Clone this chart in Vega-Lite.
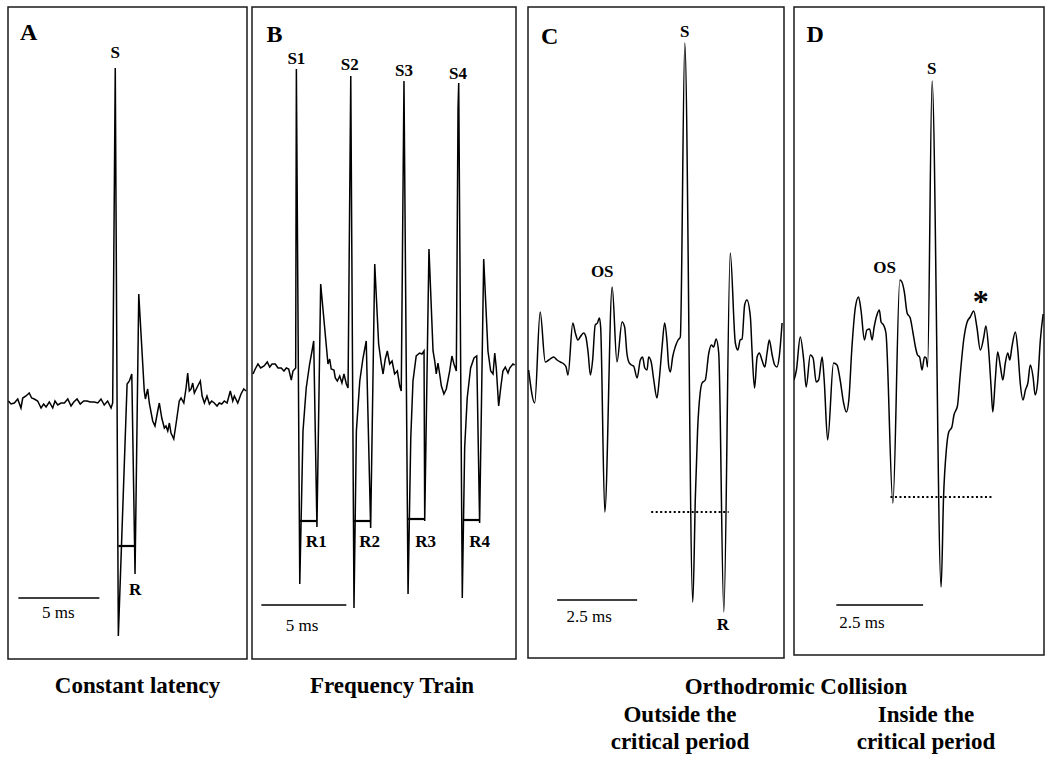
{
"$schema": "https://vega.github.io/schema/vega-lite/v6.json",
"background": "white",
"padding": {"left": 7, "top": 6, "right": 0, "bottom": 0},
"title": {"text": "Orthodromic Collision", "orient": "bottom", "anchor": "start", "frame": "group", "align": "center", "dx": 788, "offset": -79, "baseline": "top", "font": "Liberation Serif", "fontSize": 23, "fontWeight": "bold", "color": "black"},
"datasets": {
"traceA": [{"t":0.02,"v":0},{"t":0.19,"v":-3},{"t":0.39,"v":-2},{"t":0.60,"v":2},{"t":0.80,"v":-7},{"t":0.91,"v":3},{"t":1.11,"v":5},{"t":1.31,"v":8},{"t":1.46,"v":3},{"t":1.62,"v":2},{"t":1.83,"v":0},{"t":2.04,"v":-7},{"t":2.20,"v":-3},{"t":2.35,"v":-6},{"t":2.55,"v":-1},{"t":2.76,"v":-7},{"t":2.90,"v":0},{"t":3.07,"v":-4},{"t":3.27,"v":-2},{"t":3.48,"v":-2},{"t":3.69,"v":2},{"t":3.89,"v":-5},{"t":4.06,"v":-1},{"t":4.26,"v":2},{"t":4.46,"v":-3},{"t":4.67,"v":0},{"t":4.88,"v":0},{"t":5.08,"v":-1},{"t":5.33,"v":-1},{"t":5.54,"v":-2},{"t":5.74,"v":2},{"t":5.94,"v":-4},{"t":6.15,"v":0},{"t":6.36,"v":-7},{"t":6.46,"v":-2},{"t":6.62,"v":333},{"t":6.81,"v":-235},{"t":7.35,"v":17},{"t":7.49,"v":20},{"t":7.64,"v":27},{"t":7.84,"v":-173},{"t":8.07,"v":107},{"t":8.41,"v":10},{"t":8.48,"v":2},{"t":8.62,"v":12},{"t":8.72,"v":-2},{"t":8.93,"v":-20},{"t":9.07,"v":-25},{"t":9.24,"v":-10},{"t":9.34,"v":-2},{"t":9.49,"v":-17},{"t":9.65,"v":-27},{"t":9.75,"v":-25},{"t":9.86,"v":-30},{"t":9.96,"v":-22},{"t":10.06,"v":-32},{"t":10.23,"v":-38},{"t":10.37,"v":-23},{"t":10.57,"v":0},{"t":10.68,"v":3},{"t":10.85,"v":-2},{"t":10.99,"v":13},{"t":11.09,"v":28},{"t":11.19,"v":10},{"t":11.30,"v":12},{"t":11.40,"v":18},{"t":11.50,"v":8},{"t":11.71,"v":15},{"t":11.87,"v":20},{"t":11.98,"v":5},{"t":12.12,"v":-2},{"t":12.28,"v":5},{"t":12.43,"v":-3},{"t":12.57,"v":0},{"t":12.73,"v":-2},{"t":12.90,"v":-5},{"t":13.04,"v":-2},{"t":13.19,"v":-3},{"t":13.35,"v":0},{"t":13.52,"v":-2},{"t":13.72,"v":10},{"t":13.87,"v":0},{"t":13.97,"v":5},{"t":14.18,"v":-2},{"t":14.38,"v":7},{"t":14.55,"v":12},{"t":14.69,"v":10}],
"traceB": [{"t":0.06,"v":-1},{"t":0.19,"v":4},{"t":0.35,"v":9},{"t":0.51,"v":5},{"t":0.71,"v":7},{"t":0.90,"v":11},{"t":1.04,"v":6},{"t":1.18,"v":9},{"t":1.37,"v":9},{"t":1.53,"v":5},{"t":1.72,"v":5},{"t":1.88,"v":2},{"t":2.02,"v":5},{"t":2.16,"v":4},{"t":2.31,"v":-7},{"t":2.41,"v":2},{"t":2.57,"v":5},{"t":2.61,"v":304},{"t":2.81,"v":-211},{"t":3.00,"v":-58},{"t":3.19,"v":-15},{"t":3.39,"v":9},{"t":3.53,"v":22},{"t":3.63,"v":32},{"t":3.82,"v":-154},{"t":4.04,"v":89},{"t":4.47,"v":9},{"t":4.57,"v":14},{"t":4.66,"v":4},{"t":4.82,"v":3},{"t":4.90,"v":-5},{"t":5.02,"v":-8},{"t":5.16,"v":-3},{"t":5.29,"v":-10},{"t":5.41,"v":-1},{"t":5.55,"v":-11},{"t":5.65,"v":-15},{"t":5.81,"v":297},{"t":6.00,"v":-235},{"t":6.14,"v":-58},{"t":6.34,"v":-8},{"t":6.53,"v":15},{"t":6.72,"v":32},{"t":6.98,"v":-155},{"t":7.22,"v":109},{"t":7.45,"v":29},{"t":7.61,"v":9},{"t":7.71,"v":-1},{"t":7.84,"v":14},{"t":7.96,"v":22},{"t":8.10,"v":9},{"t":8.24,"v":12},{"t":8.39,"v":-1},{"t":8.55,"v":2},{"t":8.69,"v":-13},{"t":8.78,"v":-18},{"t":8.94,"v":292},{"t":9.18,"v":-221},{"t":9.34,"v":-65},{"t":9.47,"v":-8},{"t":9.66,"v":17},{"t":9.86,"v":20},{"t":10.00,"v":19},{"t":10.12,"v":22},{"t":10.16,"v":-148},{"t":10.41,"v":124},{"t":10.65,"v":22},{"t":10.75,"v":12},{"t":10.84,"v":-1},{"t":10.94,"v":10},{"t":11.04,"v":-1},{"t":11.14,"v":-13},{"t":11.29,"v":-21},{"t":11.43,"v":-16},{"t":11.63,"v":2},{"t":11.76,"v":17},{"t":11.88,"v":9},{"t":12.02,"v":2},{"t":12.12,"v":265},{"t":12.16,"v":290},{"t":12.37,"v":-225},{"t":12.51,"v":-75},{"t":12.66,"v":-25},{"t":12.86,"v":5},{"t":13.06,"v":15},{"t":13.22,"v":17},{"t":13.39,"v":-150},{"t":13.63,"v":114},{"t":13.88,"v":22},{"t":14.04,"v":2},{"t":14.18,"v":-1},{"t":14.28,"v":20},{"t":14.37,"v":5},{"t":14.51,"v":-33},{"t":14.63,"v":-15},{"t":14.76,"v":2},{"t":14.90,"v":6},{"t":15.06,"v":0},{"t":15.16,"v":5},{"t":15.35,"v":9},{"t":15.45,"v":8}],
"traceC": [{"t":0.02,"v":-10},{"t":0.21,"v":-43},{"t":0.38,"v":48},{"t":0.54,"v":-2},{"t":0.65,"v":0},{"t":0.80,"v":3},{"t":0.91,"v":0},{"t":1.01,"v":-2},{"t":1.12,"v":-4},{"t":1.19,"v":-7},{"t":1.25,"v":-15},{"t":1.40,"v":37},{"t":1.48,"v":27},{"t":1.56,"v":20},{"t":1.63,"v":23},{"t":1.74,"v":27},{"t":1.81,"v":23},{"t":1.88,"v":7},{"t":1.95,"v":-15},{"t":2.02,"v":0},{"t":2.10,"v":35},{"t":2.17,"v":37},{"t":2.23,"v":42},{"t":2.27,"v":33},{"t":2.40,"v":-152},{"t":2.63,"v":73},{"t":2.78,"v":-2},{"t":2.94,"v":38},{"t":3.02,"v":33},{"t":3.09,"v":7},{"t":3.15,"v":-2},{"t":3.23,"v":-5},{"t":3.30,"v":-6},{"t":3.41,"v":-18},{"t":3.51,"v":0},{"t":3.58,"v":3},{"t":3.65,"v":-8},{"t":3.72,"v":-10},{"t":3.77,"v":3},{"t":3.85,"v":-2},{"t":3.93,"v":-20},{"t":4.03,"v":-38},{"t":4.10,"v":-20},{"t":4.19,"v":13},{"t":4.27,"v":37},{"t":4.34,"v":20},{"t":4.40,"v":-7},{"t":4.45,"v":-12},{"t":4.52,"v":3},{"t":4.60,"v":13},{"t":4.69,"v":20},{"t":4.76,"v":23},{"t":4.90,"v":317},{"t":5.15,"v":-242},{"t":5.23,"v":-137},{"t":5.30,"v":-70},{"t":5.38,"v":-33},{"t":5.44,"v":-23},{"t":5.54,"v":-20},{"t":5.65,"v":7},{"t":5.73,"v":15},{"t":5.80,"v":13},{"t":5.88,"v":21},{"t":5.96,"v":7},{"t":6.12,"v":-252},{"t":6.32,"v":107},{"t":6.48,"v":17},{"t":6.56,"v":10},{"t":6.63,"v":20},{"t":6.69,"v":21},{"t":6.77,"v":55},{"t":6.84,"v":60},{"t":6.95,"v":43},{"t":7.00,"v":10},{"t":7.08,"v":-28},{"t":7.16,"v":3},{"t":7.23,"v":7},{"t":7.31,"v":0},{"t":7.40,"v":-7},{"t":7.47,"v":7},{"t":7.54,"v":20},{"t":7.63,"v":5},{"t":7.71,"v":-5},{"t":7.78,"v":-7},{"t":7.85,"v":3},{"t":7.94,"v":37}],
"traceD": [{"t":0.0,"v":-20},{"t":0.07,"v":-10},{"t":0.18,"v":23},{"t":0.28,"v":0},{"t":0.35,"v":-27},{"t":0.47,"v":5},{"t":0.55,"v":2},{"t":0.64,"v":-22},{"t":0.71,"v":-20},{"t":0.81,"v":3},{"t":0.87,"v":-20},{"t":0.97,"v":-80},{"t":1.14,"v":-3},{"t":1.24,"v":-5},{"t":1.33,"v":-20},{"t":1.43,"v":-43},{"t":1.51,"v":-52},{"t":1.58,"v":-40},{"t":1.67,"v":13},{"t":1.77,"v":53},{"t":1.86,"v":63},{"t":1.93,"v":50},{"t":2.03,"v":20},{"t":2.10,"v":30},{"t":2.18,"v":31},{"t":2.25,"v":20},{"t":2.31,"v":33},{"t":2.39,"v":45},{"t":2.46,"v":50},{"t":2.51,"v":38},{"t":2.58,"v":35},{"t":2.65,"v":27},{"t":2.85,"v":-143},{"t":3.05,"v":80},{"t":3.11,"v":78},{"t":3.18,"v":68},{"t":3.26,"v":47},{"t":3.35,"v":42},{"t":3.43,"v":27},{"t":3.50,"v":13},{"t":3.56,"v":5},{"t":3.62,"v":3},{"t":3.69,"v":-10},{"t":3.76,"v":3},{"t":3.81,"v":2},{"t":3.85,"v":-7},{"t":3.98,"v":279},{"t":4.24,"v":-227},{"t":4.31,"v":-137},{"t":4.39,"v":-90},{"t":4.46,"v":-72},{"t":4.55,"v":-67},{"t":4.61,"v":-55},{"t":4.71,"v":-46},{"t":4.79,"v":-15},{"t":4.89,"v":20},{"t":4.99,"v":38},{"t":5.08,"v":43},{"t":5.18,"v":49},{"t":5.27,"v":33},{"t":5.37,"v":10},{"t":5.47,"v":23},{"t":5.53,"v":34},{"t":5.61,"v":10},{"t":5.68,"v":-27},{"t":5.73,"v":-52},{"t":5.80,"v":-20},{"t":5.87,"v":8},{"t":5.95,"v":-7},{"t":6.02,"v":-20},{"t":6.09,"v":-3},{"t":6.16,"v":7},{"t":6.22,"v":0},{"t":6.28,"v":13},{"t":6.38,"v":28},{"t":6.45,"v":10},{"t":6.52,"v":-23},{"t":6.60,"v":-40},{"t":6.67,"v":-30},{"t":6.74,"v":-23},{"t":6.81,"v":-5},{"t":6.89,"v":-17},{"t":6.95,"v":-35},{"t":7.02,"v":-23},{"t":7.10,"v":20},{"t":7.18,"v":46}],
"labelsA": [{"t":1.27,"v":368,"label":"A","kind":"panel"},{"t":6.62,"v":348,"label":"S","kind":"spike"},{"t":7.84,"v":-189,"label":"R","kind":"spike"},{"t":3.10,"v":-212,"label":"5 ms","kind":"scale"}],
"segsA": [{"t":6.81,"t2":7.80,"v":-145,"kind":"bracket"},{"t":0.64,"t2":5.64,"v":-197,"kind":"scale"}],
"labelsB": [{"t":1.33,"v":338,"label":"B","kind":"panel"},{"t":2.61,"v":314,"label":"S1","kind":"spike"},{"t":5.75,"v":308,"label":"S2","kind":"spike"},{"t":8.94,"v":302,"label":"S3","kind":"spike"},{"t":12.12,"v":299,"label":"S4","kind":"spike"},{"t":3.78,"v":-169,"label":"R1","kind":"spike"},{"t":6.92,"v":-169,"label":"R2","kind":"spike"},{"t":10.22,"v":-169,"label":"R3","kind":"spike"},{"t":13.39,"v":-169,"label":"R4","kind":"spike"},{"t":2.94,"v":-253,"label":"5 ms","kind":"scale"}],
"segsB": [{"t":2.80,"t2":3.81,"v":-148,"kind":"bracket"},{"t":5.97,"t2":6.97,"v":-148,"kind":"bracket"},{"t":9.14,"t2":10.16,"v":-146,"kind":"bracket"},{"t":12.40,"t2":13.39,"v":-147,"kind":"bracket"},{"t":0.55,"t2":5.55,"v":-232,"kind":"scale"}],
"labelsC": [{"t":0.68,"v":323,"label":"C","kind":"panel"},{"t":2.32,"v":88,"label":"OS","kind":"spike"},{"t":4.90,"v":328,"label":"S","kind":"spike"},{"t":6.09,"v":-265,"label":"R","kind":"spike"},{"t":1.91,"v":-257,"label":"2.5 ms","kind":"scale"}],
"segsC": [{"t":3.85,"t2":6.27,"v":-152,"kind":"dotted"},{"t":0.91,"t2":3.41,"v":-240,"kind":"scale"}],
"labelsD": [{"t":0.61,"v":325,"label":"D","kind":"panel"},{"t":2.61,"v":92,"label":"OS","kind":"spike"},{"t":3.97,"v":291,"label":"S","kind":"spike"},{"t":5.38,"v":58,"label":"*","kind":"star"},{"t":1.96,"v":-263,"label":"2.5 ms","kind":"scale"}],
"segsD": [{"t":2.78,"t2":5.73,"v":-137,"kind":"dotted"},{"t":1.22,"t2":3.72,"v":-245,"kind":"scale"}]
},
"spacing": 10,
"hconcat": [
{"spacing": 3, "hconcat": [
{"width": 239, "height": 652,
 "title": {"text": "Constant latency", "orient": "bottom", "anchor": "middle", "frame": "group", "offset": 16, "dx": 10, "baseline": "top", "font": "Liberation Serif", "fontSize": 23, "fontWeight": "bold", "color": "black"},
 "encoding": {"x": {"field": "t", "type": "quantitative", "scale": {"domain": [0, 14.75], "nice": false, "zero": false}, "axis": null},
              "y": {"field": "v", "type": "quantitative", "scale": {"domain": [-258, 394], "nice": false, "zero": false}, "axis": null}},
 "layer": [
  {"data": {"name": "traceA"}, "mark": {"type": "line", "color": "black", "strokeWidth": 1.5, "clip": true}},
  {"data": {"name": "segsA"}, "transform": [{"filter": "datum.kind === 'scale'"}], "mark": {"type": "rule", "color": "black", "strokeWidth": 1.5}, "encoding": {"x2": {"field": "t2"}}},
  {"data": {"name": "segsA"}, "transform": [{"filter": "datum.kind === 'bracket'"}], "mark": {"type": "rule", "color": "black", "strokeWidth": 2.2}, "encoding": {"x2": {"field": "t2"}}},
  {"data": {"name": "labelsA"}, "transform": [{"filter": "datum.kind === 'panel'"}], "mark": {"type": "text", "font": "Liberation Serif", "fontWeight": "bold", "fontSize": 24, "align": "center", "baseline": "middle", "color": "black"}, "encoding": {"text": {"field": "label"}}},
  {"data": {"name": "labelsA"}, "transform": [{"filter": "datum.kind === 'spike'"}], "mark": {"type": "text", "font": "Liberation Serif", "fontWeight": "bold", "fontSize": 17, "align": "center", "baseline": "middle", "color": "black"}, "encoding": {"text": {"field": "label"}}},
  {"data": {"name": "labelsA"}, "transform": [{"filter": "datum.kind === 'scale'"}], "mark": {"type": "text", "font": "Liberation Serif", "fontSize": 17, "align": "center", "baseline": "middle", "color": "black"}, "encoding": {"text": {"field": "label"}}}
 ]},
{"width": 264, "height": 652,
 "title": {"text": "Frequency Train", "orient": "bottom", "anchor": "middle", "frame": "group", "offset": 16, "dx": 8, "baseline": "top", "font": "Liberation Serif", "fontSize": 23, "fontWeight": "bold", "color": "black"},
 "encoding": {"x": {"field": "t", "type": "quantitative", "scale": {"domain": [0, 15.53], "nice": false, "zero": false}, "axis": null},
              "y": {"field": "v", "type": "quantitative", "scale": {"domain": [-286, 366], "nice": false, "zero": false}, "axis": null}},
 "layer": [
  {"data": {"name": "traceB"}, "mark": {"type": "line", "color": "black", "strokeWidth": 1.5, "clip": true}},
  {"data": {"name": "segsB"}, "transform": [{"filter": "datum.kind === 'scale'"}], "mark": {"type": "rule", "color": "black", "strokeWidth": 1.5}, "encoding": {"x2": {"field": "t2"}}},
  {"data": {"name": "segsB"}, "transform": [{"filter": "datum.kind === 'bracket'"}], "mark": {"type": "rule", "color": "black", "strokeWidth": 2.2}, "encoding": {"x2": {"field": "t2"}}},
  {"data": {"name": "labelsB"}, "transform": [{"filter": "datum.kind === 'panel'"}], "mark": {"type": "text", "font": "Liberation Serif", "fontWeight": "bold", "fontSize": 24, "align": "center", "baseline": "middle", "color": "black"}, "encoding": {"text": {"field": "label"}}},
  {"data": {"name": "labelsB"}, "transform": [{"filter": "datum.kind === 'spike'"}], "mark": {"type": "text", "font": "Liberation Serif", "fontWeight": "bold", "fontSize": 17, "align": "center", "baseline": "middle", "color": "black"}, "encoding": {"text": {"field": "label"}}},
  {"data": {"name": "labelsB"}, "transform": [{"filter": "datum.kind === 'scale'"}], "mark": {"type": "text", "font": "Liberation Serif", "fontSize": 17, "align": "center", "baseline": "middle", "color": "black"}, "encoding": {"text": {"field": "label"}}}
 ]}
]},
{"spacing": 8, "hconcat": [
{"width": 256, "height": 651,
 "title": {"text": ["Outside the", "critical period"], "orient": "bottom", "anchor": "middle", "frame": "group", "offset": 46, "dx": 24, "baseline": "top", "lineHeight": 27, "font": "Liberation Serif", "fontSize": 23, "fontWeight": "bold", "color": "black"},
 "encoding": {"x": {"field": "t", "type": "quantitative", "scale": {"domain": [0, 8.0], "nice": false, "zero": false}, "axis": null},
              "y": {"field": "v", "type": "quantitative", "scale": {"domain": [-298, 353], "nice": false, "zero": false}, "axis": null}},
 "layer": [
  {"data": {"name": "traceC"}, "mark": {"type": "line", "color": "black", "strokeWidth": 1.5, "interpolate": "monotone", "clip": true}},
  {"data": {"name": "segsC"}, "transform": [{"filter": "datum.kind === 'scale'"}], "mark": {"type": "rule", "color": "black", "strokeWidth": 1.5}, "encoding": {"x2": {"field": "t2"}}},
  {"data": {"name": "segsC"}, "transform": [{"filter": "datum.kind === 'dotted'"}], "mark": {"type": "rule", "color": "black", "strokeWidth": 2, "strokeDash": [2, 2.5]}, "encoding": {"x2": {"field": "t2"}}},
  {"data": {"name": "labelsC"}, "transform": [{"filter": "datum.kind === 'panel'"}], "mark": {"type": "text", "font": "Liberation Serif", "fontWeight": "bold", "fontSize": 24, "align": "center", "baseline": "middle", "color": "black"}, "encoding": {"text": {"field": "label"}}},
  {"data": {"name": "labelsC"}, "transform": [{"filter": "datum.kind === 'spike'"}], "mark": {"type": "text", "font": "Liberation Serif", "fontWeight": "bold", "fontSize": 17, "align": "center", "baseline": "middle", "color": "black"}, "encoding": {"text": {"field": "label"}}},
  {"data": {"name": "labelsC"}, "transform": [{"filter": "datum.kind === 'scale'"}], "mark": {"type": "text", "font": "Liberation Serif", "fontSize": 17, "align": "center", "baseline": "middle", "color": "black"}, "encoding": {"text": {"field": "label"}}}
 ]},
{"width": 250, "height": 648,
 "title": {"text": ["Inside the", "critical period"], "orient": "bottom", "anchor": "middle", "frame": "group", "offset": 49, "dx": 7, "baseline": "top", "lineHeight": 27, "font": "Liberation Serif", "fontSize": 23, "fontWeight": "bold", "color": "black"},
 "encoding": {"x": {"field": "t", "type": "quantitative", "scale": {"domain": [0, 7.205], "nice": false, "zero": false}, "axis": null},
              "y": {"field": "v", "type": "quantitative", "scale": {"domain": [-295, 353], "nice": false, "zero": false}, "axis": null}},
 "layer": [
  {"data": {"name": "traceD"}, "mark": {"type": "line", "color": "black", "strokeWidth": 1.5, "interpolate": "monotone", "clip": true}},
  {"data": {"name": "segsD"}, "transform": [{"filter": "datum.kind === 'scale'"}], "mark": {"type": "rule", "color": "black", "strokeWidth": 1.5}, "encoding": {"x2": {"field": "t2"}}},
  {"data": {"name": "segsD"}, "transform": [{"filter": "datum.kind === 'dotted'"}], "mark": {"type": "rule", "color": "black", "strokeWidth": 2, "strokeDash": [2, 2.5]}, "encoding": {"x2": {"field": "t2"}}},
  {"data": {"name": "labelsD"}, "transform": [{"filter": "datum.kind === 'panel'"}], "mark": {"type": "text", "font": "Liberation Serif", "fontWeight": "bold", "fontSize": 24, "align": "center", "baseline": "middle", "color": "black"}, "encoding": {"text": {"field": "label"}}},
  {"data": {"name": "labelsD"}, "transform": [{"filter": "datum.kind === 'spike'"}], "mark": {"type": "text", "font": "Liberation Serif", "fontWeight": "bold", "fontSize": 17, "align": "center", "baseline": "middle", "color": "black"}, "encoding": {"text": {"field": "label"}}},
  {"data": {"name": "labelsD"}, "transform": [{"filter": "datum.kind === 'star'"}], "mark": {"type": "text", "font": "Liberation Serif", "fontWeight": "bold", "fontSize": 32, "align": "center", "baseline": "middle", "color": "black"}, "encoding": {"text": {"field": "label"}}},
  {"data": {"name": "labelsD"}, "transform": [{"filter": "datum.kind === 'scale'"}], "mark": {"type": "text", "font": "Liberation Serif", "fontSize": 17, "align": "center", "baseline": "middle", "color": "black"}, "encoding": {"text": {"field": "label"}}}
 ]}
]}
],
"config": {"view": {"stroke": "#1a1a1a", "strokeWidth": 1.5}}
}
